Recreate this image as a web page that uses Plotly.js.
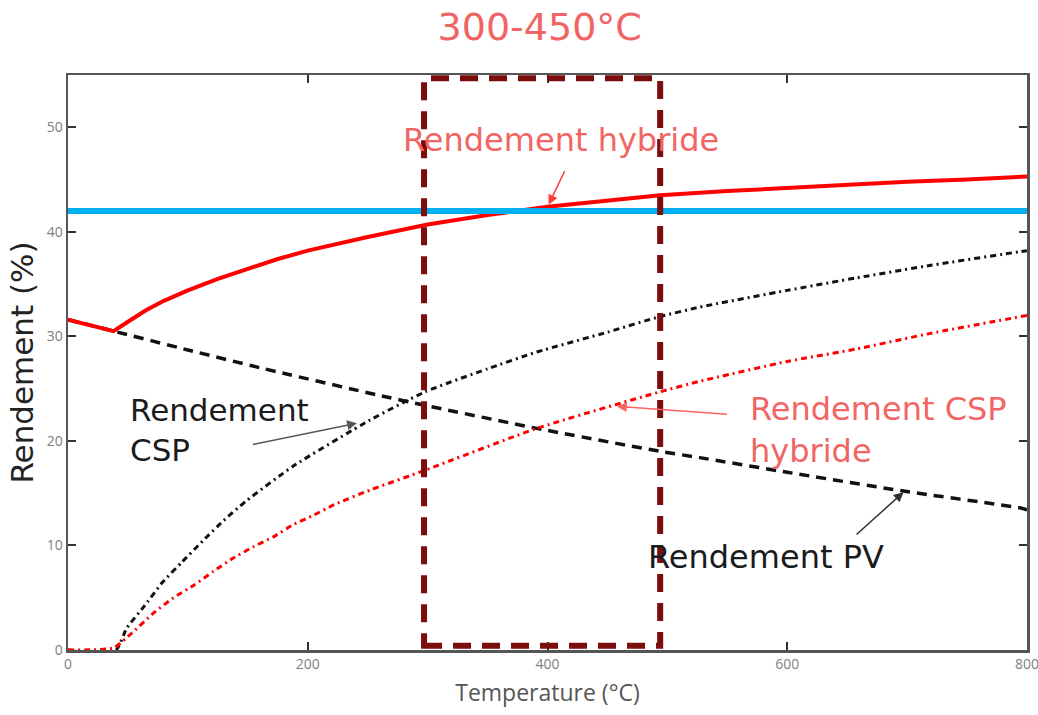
<!DOCTYPE html>
<html>
<head>
<meta charset="utf-8">
<script src="https://cdn.plot.ly/plotly-3.0.1.min.js"></script>
<style>html,body{margin:0;padding:0;background:#fff;}#chart{width:1038px;height:715px;}</style>
</head>
<body>
<div id="chart"></div>
<script>
// Rendement hybride (red solid)
const hybX = [0, 38, 50, 65, 80, 100, 125, 150, 175, 200, 250, 300, 350, 400, 450, 494, 550, 600, 658, 700, 750, 800];
const hybY = [31.6, 30.5, 31.4, 32.5, 33.4, 34.4, 35.5, 36.5, 37.4, 38.2, 39.5, 40.7, 41.6, 42.4, 43.0, 43.5, 43.9, 44.2, 44.5, 44.8, 45.0, 45.3];
// Rendement PV (black dashed)
const pvX = [0, 38, 100, 160, 258, 298, 391, 494, 527, 600, 697, 794, 800];
const pvY = [31.6, 30.5, 28.7, 27.0, 24.4, 23.4, 21.2, 19.0, 18.4, 17.0, 15.2, 13.6, 13.4];
// Rendement CSP (black dash-dot)
const cspX = [0, 40, 49, 63, 79, 95, 113, 130, 148, 188, 252, 298, 350, 391, 450, 494, 527, 600, 658, 720, 794, 800];
const cspY = [0, 0, 2.1, 4.1, 6.5, 8.4, 10.5, 12.4, 14.2, 17.6, 22.0, 24.7, 26.9, 28.5, 30.4, 31.9, 32.8, 34.4, 35.6, 36.8, 38.1, 38.2];
// Rendement CSP hybride (red dash-dot)
const csphX = [0, 38, 53, 71, 88, 105, 121, 138, 155, 171, 188, 205, 222, 252, 298, 391, 494, 527, 600, 658, 720, 800];
const csphY = [0, 0.2, 1.6, 3.5, 5.0, 6.2, 7.5, 8.8, 9.9, 10.8, 12.0, 12.9, 13.9, 15.3, 17.2, 21.2, 24.7, 25.7, 27.6, 28.8, 30.3, 32.0];
// Reference level (blue)
const refX = [0, 800];
const refY = [42, 42];
// Highlighted range
const boxX = [297, 494];
const boxY = [0.4, 54.7];
// Ticks
const xTicks = [0, 200, 400, 600, 800];
const yTicks = [0, 10, 20, 30, 40, 50];

const annFont = 'DejaVu Sans, sans-serif';
const redText = '#f26565';

const traces = [
  {x: pvX, y: pvY, mode: 'lines', line: {color: '#111', width: 3.5, dash: '10px,7px', shape: 'spline', smoothing: 0.5}},
  {x: cspX, y: cspY, mode: 'lines', line: {color: '#111', width: 3, dash: '6px,4px,2px,4px', shape: 'spline', smoothing: 0.5}},
  {x: csphX, y: csphY, mode: 'lines', line: {color: '#ff0000', width: 3, dash: '6px,4px,2px,4px', shape: 'spline', smoothing: 0.5}},
  {x: hybX, y: hybY, mode: 'lines', line: {color: '#ff0000', width: 4}},
  {x: refX, y: refY, mode: 'lines', line: {color: '#00b0f0', width: 6}}
];

const axisCommon = {
  showgrid: false, zeroline: false, showline: true, linecolor: '#555', linewidth: 2.5,
  mirror: 'ticks', ticks: 'inside', ticklen: 8, tickwidth: 2, tickcolor: '#333',
  ticklabeloverflow: 'allow',
  tickfont: {family: 'Open Sans, sans-serif', size: 14, color: '#808080'}
};

const layout = {
  width: 1038, height: 715,
  margin: {l: 68, r: 11, t: 75, b: 65},
  paper_bgcolor: '#fff', plot_bgcolor: '#fff',
  showlegend: false,
  title: {text: '300-450°C', x: 0.52, xanchor: 'center', y: 0.962, yanchor: 'middle',
          font: {family: annFont, size: 38, color: '#f06464'}},
  xaxis: Object.assign({}, axisCommon, {range: [0, 800], tickvals: xTicks, ticktext: xTicks.map(String),
    title: {text: 'Temperature (°C)', standoff: 13, font: {family: 'Open Sans, sans-serif', size: 23, color: '#555'}}}),
  yaxis: Object.assign({}, axisCommon, {range: [0, 55], tickvals: yTicks, ticktext: yTicks.map(String),
    title: {text: 'Rendement (%)', standoff: 4, font: {family: annFont, size: 31, color: '#222'}}}),
  shapes: [{type: 'rect', xref: 'x', yref: 'y', x0: boxX[0], x1: boxX[1], y0: boxY[0], y1: boxY[1],
            line: {color: '#7b0d0d', width: 6, dash: '18px,11px'}, fillcolor: 'rgba(0,0,0,0)', layer: 'above'}],
  annotations: [
    {xref: 'x', yref: 'y', x: 411, y: 48.8, text: 'Rendement hybride', showarrow: false,
     font: {family: annFont, size: 32, color: redText}},
    {xref: 'x', yref: 'y', x: 401, y: 42.6, ax: 19, ay: -40, text: ' ', showarrow: true,
     arrowcolor: '#ff3b3b', arrowwidth: 1.5, arrowhead: 2, arrowsize: 1.3},
    {xref: 'x', yref: 'y', x: 50, y: 21.05, xanchor: 'left', align: 'left', text: 'Rendement<br>CSP', showarrow: false,
     font: {family: annFont, size: 31, color: '#1b1b1b'}},
    {xref: 'x', yref: 'y', x: 241, y: 21.7, ax: -107, ay: 22, text: ' ', showarrow: true,
     arrowcolor: '#555', arrowwidth: 1.5, arrowhead: 2, arrowsize: 1.3},
    {xref: 'x', yref: 'y', x: 567, y: 21.05, xanchor: 'left', align: 'left', text: 'Rendement CSP<br>hybride', showarrow: false,
     font: {family: annFont, size: 32, color: redText}},
    {xref: 'x', yref: 'y', x: 458, y: 23.3, ax: 113, ay: 8, text: ' ', showarrow: true,
     arrowcolor: '#ff6060', arrowwidth: 1.5, arrowhead: 2, arrowsize: 1.3},
    {xref: 'x', yref: 'y', x: 582, y: 8.9, text: 'Rendement PV', showarrow: false,
     font: {family: annFont, size: 32, color: '#1b1b1b'}},
    {xref: 'x', yref: 'y', x: 697, y: 15.1, ax: -50, ay: 45, text: ' ', showarrow: true,
     arrowcolor: '#333', arrowwidth: 1.5, arrowhead: 2, arrowsize: 1.3}
  ]
};

Plotly.newPlot('chart', traces, layout, {displayModeBar: false, staticPlot: true});
</script>
</body>
</html>
